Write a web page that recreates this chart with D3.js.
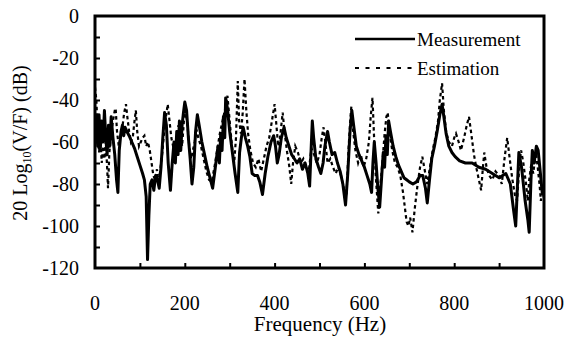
<!DOCTYPE html>
<html>
<head>
<meta charset="utf-8">
<script src="https://cdn.jsdelivr.net/npm/d3@7"></script>
<style>
  body { margin: 0; background: #fff; }
  text { font-family: 'Liberation Serif', 'Times New Roman', serif; fill: #000; }
</style>
</head>
<body>
<div id="chart"></div>
<script>
// measured FRF (solid)
const measFreq = [0, 3, 6, 9, 12, 15, 18, 21, 24, 27, 30, 33, 36, 40, 44, 48, 51, 54, 58, 61, 64, 67, 71, 76, 82, 88, 94, 100, 106, 110, 114, 117, 120, 123, 127, 131, 135, 139, 143, 147, 151, 155, 159, 163, 168, 172, 176, 179, 182, 185, 188, 191, 194, 197, 200, 204, 208, 212, 216, 220, 224, 228, 232, 238, 244, 250, 256, 262, 268, 274, 277, 280, 283, 286, 289, 291, 295, 300, 306, 312, 318, 322, 326, 330, 335, 340, 345, 350, 356, 362, 367, 373, 379, 385, 392, 398, 402, 406, 410, 415, 421, 426, 432, 438, 444, 450, 456, 462, 468, 474, 478, 482, 484, 487, 492, 498, 503, 508, 512, 518, 522, 528, 534, 540, 546, 552, 558, 563, 568, 572, 576, 582, 588, 594, 600, 606, 612, 616, 619, 622, 626, 630, 634, 638, 642, 645, 648, 651, 654, 658, 664, 670, 676, 682, 688, 694, 700, 708, 716, 724, 730, 736, 740, 745, 750, 756, 762, 768, 773, 777, 782, 788, 795, 802, 812, 825, 840, 855, 870, 885, 900, 915, 925, 932, 937, 941, 944, 950, 958, 964, 967, 971, 974, 978, 983, 987, 992, 996, 1000];
const measDb = [-57, -48, -62, -47, -63, -50, -60, -45, -58, -66, -52, -62, -48, -58, -66, -78, -84, -64, -55, -52, -57, -53, -55, -57, -60, -63, -67, -71, -75, -78, -86, -116, -95, -80, -78, -83, -76, -78, -82, -72, -58, -46, -52, -70, -83, -70, -60, -70, -55, -66, -50, -64, -52, -46, -41, -45, -58, -68, -80, -72, -55, -47, -52, -60, -66, -72, -77, -82, -72, -62, -70, -56, -64, -48, -58, -39, -44, -55, -65, -75, -84, -65, -58, -53, -58, -62, -67, -75, -76, -76, -79, -85, -75, -67, -60, -57, -62, -70, -66, -58, -53, -58, -62, -66, -68, -70, -68, -73, -70, -75, -81, -60, -50, -58, -68, -72, -75, -70, -62, -55, -60, -66, -65, -70, -74, -80, -90, -75, -55, -45, -52, -62, -66, -69, -72, -76, -80, -84, -70, -60, -70, -82, -91, -78, -65, -72, -57, -66, -50, -55, -62, -67, -71, -74, -77, -78, -79, -80, -79, -76, -76, -82, -89, -78, -68, -62, -55, -47, -42, -48, -56, -62, -65, -67, -69, -70, -70, -72, -73, -75, -77, -75, -80, -92, -100, -80, -65, -72, -88, -97, -103, -78, -64, -70, -62, -64, -75, -84, -84];

// model estimate (dashed)
const estFreq = [0, 3, 6, 9, 12, 15, 18, 21, 24, 27, 29, 32, 36, 40, 44, 46, 49, 53, 57, 61, 65, 69, 72, 76, 80, 84, 88, 91, 94, 98, 102, 106, 110, 114, 118, 122, 126, 130, 134, 138, 142, 146, 150, 154, 158, 162, 166, 170, 174, 178, 182, 186, 190, 194, 198, 202, 206, 210, 214, 218, 222, 226, 230, 236, 242, 248, 254, 260, 266, 272, 278, 284, 290, 295, 300, 305, 310, 314, 318, 321, 325, 329, 333, 337, 341, 346, 352, 358, 364, 370, 376, 382, 388, 394, 400, 404, 408, 412, 418, 422, 428, 433, 437, 441, 446, 452, 458, 464, 470, 476, 482, 488, 494, 500, 505, 509, 513, 518, 524, 530, 536, 542, 548, 554, 560, 565, 569, 571, 575, 580, 586, 592, 598, 604, 610, 614, 618, 621, 625, 629, 631, 635, 640, 645, 649, 652, 656, 662, 668, 674, 680, 686, 690, 694, 698, 702, 707, 712, 718, 724, 729, 734, 740, 746, 752, 758, 764, 768, 773, 777, 782, 788, 795, 800, 804, 810, 815, 822, 828, 833, 838, 844, 849, 855, 860, 864, 867, 872, 878, 885, 892, 900, 906, 912, 918, 922, 926, 929, 935, 940, 945, 949, 954, 960, 964, 967, 972, 976, 982, 986, 990, 993, 997, 1000];
const estDb = [-34, -40, -55, -65, -58, -70, -62, -68, -60, -72, -82, -65, -56, -50, -45, -44, -55, -62, -57, -53, -46, -42, -48, -55, -60, -58, -50, -45, -55, -62, -60, -58, -57, -62, -60, -64, -70, -76, -78, -73, -80, -72, -65, -55, -48, -42, -50, -58, -62, -66, -60, -52, -56, -62, -50, -45, -52, -62, -68, -64, -60, -54, -58, -62, -68, -74, -78, -79, -72, -64, -56, -50, -44, -38, -50, -62, -70, -58, -31, -50, -56, -46, -30, -45, -56, -64, -70, -72, -68, -74, -68, -62, -58, -50, -42, -52, -62, -58, -46, -55, -65, -72, -80, -70, -62, -65, -70, -68, -72, -74, -63, -66, -70, -66, -58, -53, -60, -70, -68, -72, -75, -72, -76, -82, -86, -62, -48, -43, -55, -64, -70, -66, -72, -68, -60, -48, -39, -55, -75, -88, -94, -82, -70, -56, -48, -46, -56, -64, -70, -72, -76, -84, -91, -98, -100, -96, -103, -92, -81, -72, -67, -73, -80, -72, -64, -58, -50, -40, -32, -45, -55, -60, -62, -58, -56, -60, -64, -58, -52, -48, -56, -66, -72, -78, -83, -72, -65, -72, -76, -78, -74, -76, -80, -68, -58, -65, -72, -77, -85, -88, -72, -64, -70, -80, -88, -78, -70, -75, -65, -72, -80, -88, -82, -88];

const xTicks = [0, 200, 400, 600, 800, 1000];
const yTicks = [0, -20, -40, -60, -80, -100, -120];
const seriesNames = ['Measurement', 'Estimation'];

const width = 567;
const height = 340;
const margin = {top: 16, right: 23, bottom: 72, left: 95};

const svg = d3.select('#chart').append('svg')
  .attr('width', width)
  .attr('height', height);

const x = d3.scaleLinear()
  .domain([0, 1000])
  .range([margin.left, width - margin.right]);
const y = d3.scaleLinear()
  .domain([-120, 0])
  .range([height - margin.bottom, margin.top]);

const line = d3.line()
  .x(d => x(d[0]))
  .y(d => y(d[1]));

const meas = measFreq.map((f, i) => [f, measDb[i]]);
const est = estFreq.map((f, i) => [f, estDb[i]]);

svg.append('defs').append('clipPath')
  .attr('id', 'clip')
  .append('rect')
  .attr('x', x(0))
  .attr('y', y(0))
  .attr('width', x(1000) - x(0))
  .attr('height', y(-120) - y(0));

const plot = svg.append('g').attr('clip-path', 'url(#clip)');

plot.append('path')
  .datum(meas)
  .attr('d', line)
  .attr('fill', 'none')
  .attr('stroke', '#000')
  .attr('stroke-width', 3)
  .attr('stroke-linejoin', 'round');

plot.append('path')
  .datum(est)
  .attr('d', line)
  .attr('fill', 'none')
  .attr('stroke', '#000')
  .attr('stroke-width', 2.2)
  .attr('stroke-dasharray', '3.5,3');

// inward ticks
svg.append('g')
  .attr('transform', `translate(0,${y(-120)})`)
  .call(d3.axisBottom(x).tickValues(d3.range(100, 1000, 100)).tickSize(-5).tickFormat(''))
  .call(g => g.select('.domain').remove())
  .call(g => g.selectAll('line').attr('stroke-width', 2));

svg.append('g')
  .attr('transform', `translate(${x(0)},0)`)
  .call(d3.axisLeft(y).tickValues(d3.range(-110, 0, 10)).tickSize(-5).tickFormat(''))
  .call(g => g.select('.domain').remove())
  .call(g => g.selectAll('line').attr('stroke-width', 2));

// frame
svg.append('rect')
  .attr('x', x(0))
  .attr('y', y(0))
  .attr('width', x(1000) - x(0))
  .attr('height', y(-120) - y(0))
  .attr('fill', 'none')
  .attr('stroke', '#000')
  .attr('stroke-width', 3);

// tick labels
svg.selectAll('.xlab')
  .data(xTicks)
  .enter().append('text')
  .attr('class', 'xlab')
  .attr('x', d => x(d))
  .attr('y', 310)
  .attr('text-anchor', 'middle')
  .style('font-size', '20px')
  .text(d => d);

svg.selectAll('.ylab')
  .data(yTicks)
  .enter().append('text')
  .attr('class', 'ylab')
  .attr('x', 79)
  .attr('y', d => y(d))
  .attr('dy', '0.35em')
  .attr('text-anchor', 'end')
  .style('font-size', '20px')
  .text(d => d);

svg.append('text')
  .attr('x', 320)
  .attr('y', 331)
  .attr('text-anchor', 'middle')
  .style('font-size', '21px')
  .text('Frequency (Hz)');

const yTitle = svg.append('text')
  .attr('transform', 'translate(27,143) rotate(-90)')
  .attr('text-anchor', 'middle')
  .style('font-size', '20px');
yTitle.append('tspan').text('20 Log');
yTitle.append('tspan').attr('dy', 4).style('font-size', '12px').text('10');
yTitle.append('tspan').attr('dy', -4).text('(V/F) (dB)');

// legend
const legend = svg.append('g');
legend.append('line')
  .attr('x1', 355).attr('x2', 415)
  .attr('y1', 39).attr('y2', 39)
  .attr('stroke', '#000')
  .attr('stroke-width', 2.5);
legend.append('line')
  .attr('x1', 355).attr('x2', 415)
  .attr('y1', 68).attr('y2', 68)
  .attr('stroke', '#000')
  .attr('stroke-width', 2)
  .attr('stroke-dasharray', '4,6.5');
legend.selectAll('.leg')
  .data(seriesNames)
  .enter().append('text')
  .attr('x', 417)
  .attr('y', (d, i) => 46 + i * 29)
  .style('font-size', '19px')
  .text(d => d);
</script>
</body>
</html>
